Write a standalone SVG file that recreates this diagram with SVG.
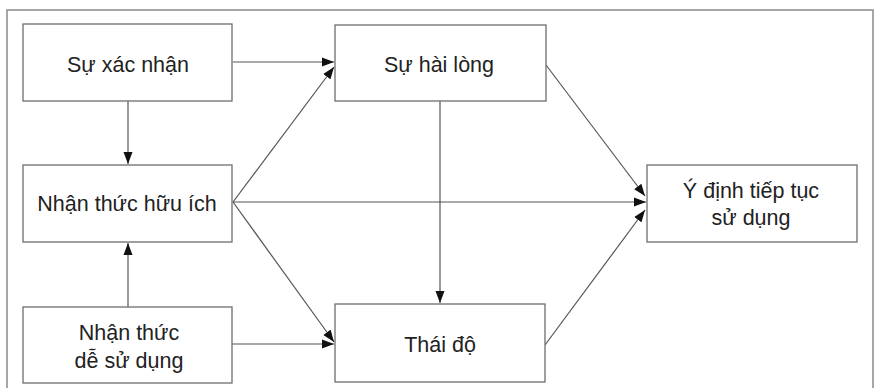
<svg xmlns="http://www.w3.org/2000/svg" width="880" height="388" viewBox="0 0 880 388">
  <style>
    .frame { fill: none; stroke: #8a8a8a; stroke-width: 1.5; }
    .box { fill: #ffffff; stroke: #6e6e6e; stroke-width: 1.3; }
    .label { font-family: "Liberation Sans", Arial, sans-serif; font-size: 21.5px; fill: #222222; text-anchor: middle; }
    .link { fill: none; stroke: #555555; stroke-width: 1.2; marker-end: url(#arrow); }
  </style>
  <defs>
    <marker id="arrow" viewBox="0 0 12 10" refX="12" refY="5" markerWidth="12" markerHeight="10" markerUnits="userSpaceOnUse" orient="auto">
      <path d="M0,0.5 L12,5 L0,9.5 Z" fill="#111111"/>
    </marker>
  </defs>

  <rect width="880" height="388" fill="#ffffff"/>

  <!-- outer frame (open at the bottom) -->
  <path class="frame" d="M7,388 V10 H873 V388"/>

  <!-- connectors -->
  <g id="connectors">
    <line class="link" x1="233" y1="62" x2="334" y2="62"/>
    <line class="link" x1="128" y1="101" x2="128" y2="164"/>
    <line class="link" x1="128" y1="307" x2="128" y2="243"/>
    <line class="link" x1="233" y1="202" x2="334" y2="67"/>
    <line class="link" x1="233" y1="202" x2="646" y2="202"/>
    <line class="link" x1="233" y1="202" x2="334" y2="342"/>
    <line class="link" x1="232" y1="344" x2="334" y2="344"/>
    <line class="link" x1="440" y1="101" x2="440" y2="303"/>
    <line class="link" x1="546" y1="65" x2="645" y2="196"/>
    <line class="link" x1="545" y1="345" x2="645" y2="210"/>
  </g>

  <!-- nodes -->
  <g id="su-xac-nhan">
    <rect class="box" x="23" y="24" width="209" height="77"/>
    <text class="label" x="128" y="72">Sự xác nhận</text>
  </g>
  <g id="nhan-thuc-huu-ich">
    <rect class="box" x="23" y="165" width="209" height="77"/>
    <text class="label" x="127" y="211">Nhận thức hữu ích</text>
  </g>
  <g id="nhan-thuc-de-su-dung">
    <rect class="box" x="23" y="307" width="209" height="76"/>
    <text class="label" x="129" y="340">Nhận thức</text>
    <text class="label" x="129" y="368">dễ sử dụng</text>
  </g>
  <g id="su-hai-long">
    <rect class="box" x="335" y="25" width="211" height="76"/>
    <text class="label" x="439" y="72">Sự hài lòng</text>
  </g>
  <g id="thai-do">
    <rect class="box" x="335" y="304" width="210" height="78"/>
    <text class="label" x="440" y="352">Thái độ</text>
  </g>
  <g id="y-dinh-tiep-tuc-su-dung">
    <rect class="box" x="647" y="165" width="210" height="77"/>
    <text class="label" x="751" y="198">Ý định tiếp tục</text>
    <text class="label" x="751" y="225">sử dụng</text>
  </g>
</svg>
